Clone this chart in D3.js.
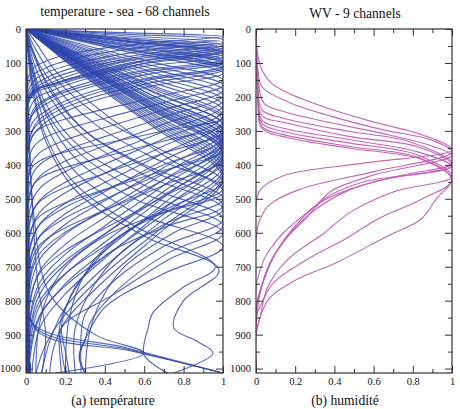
<!DOCTYPE html>
<html><head><meta charset="utf-8">
<script src="https://cdn.jsdelivr.net/npm/d3@7"></script>
<style>body{margin:0;background:#fff}svg{display:block}svg text{font-family:"Liberation Serif","DejaVu Serif",serif !important}</style>
</head><body>
<svg id="c" width="460" height="409"></svg>
<script>
// ---- DATA: each profile is a list of [pressure (hPa), normalized weight] ----
const titles = ["temperature - sea - 68 channels", "WV - 9 channels"];
const captions = ["(a) température", "(b) humidité"];
const xTickLabels = ["0", "0.2", "0.4", "0.6", "0.8", "1"];
const xTicks = [0, 0.2, 0.4, 0.6, 0.8, 1];
const xMinorTicks = [0.1, 0.3, 0.5, 0.7, 0.9];
const yTicks = [0, 100, 200, 300, 400, 500, 600, 700, 800, 900, 1000];
const yMinorTicks = [50, 150, 250, 350, 450, 550, 650, 750, 850, 950];
const pressureRange = [0, 1013];

const stratoProfiles = [
  [[0,0],[10,0.45],[22,1],[40,0.65],[65,0.3],[95,0.1],[130,0.02],[1013,0.005]],
  [[0,0],[15,0.5],[30,1],[50,0.65],[80,0.3],[115,0.1],[150,0.02],[1013,0.005]],
  [[0,0],[20,0.5],[40,1],[60,0.65],[95,0.3],[130,0.1],[170,0.02],[1013,0.01]],
  [[0,0],[25,0.5],[48,1],[70,0.65],[105,0.3],[145,0.1],[185,0.02],[1013,0.01]],
  [[0,0],[28,0.5],[55,1],[80,0.6],[115,0.3],[155,0.1],[195,0.02],[1013,0.01]],
  [[0,0],[30,0.5],[60,1],[85,0.6],[115,0.35],[160,0.12],[195,0.02],[1013,0.01]],
  [[0,0],[33,0.5],[65,1],[90,0.62],[118,0.4],[160,0.15],[197,0.02],[1013,0.015]],
  [[0,0],[36,0.5],[70,1],[95,0.65],[117,0.48],[160,0.16],[198,0.02],[1013,0.015]],
  [[0,0],[38,0.5],[75,1],[100,0.62],[125,0.42],[165,0.16],[205,0.02],[1013,0.02]],
  [[0,0],[42,0.5],[82,1],[110,0.6],[140,0.35],[180,0.14],[220,0.03],[1013,0.02]],
  [[0,0],[45,0.5],[90,1],[120,0.62],[155,0.33],[200,0.12],[245,0.03],[1013,0.02]],
  [[0,0],[50,0.5],[100,1],[130,0.65],[170,0.33],[215,0.12],[265,0.02],[1013,0.02]],
  [[0,0],[55,0.5],[110,1],[145,0.62],[185,0.33],[235,0.12],[290,0.02],[1013,0.02]],
  [[0,0],[60,0.5],[120,1],[160,0.62],[205,0.32],[255,0.12],[315,0.02],[1013,0.02]],
  [[0,0],[65,0.5],[130,1],[170,0.62],[220,0.3],[275,0.1],[335,0.02],[1013,0.02]],
  [[0,0],[35,0.5],[68,1],[92,0.62],[116,0.45],[158,0.16],[196,0.03],[1013,0.01]],
  [[0,0],[48,0.5],[95,1],[125,0.62],[160,0.35],[205,0.12],[255,0.03],[1013,0.02]],
  [[0,0],[58,0.5],[115,1],[150,0.62],[195,0.32],[245,0.12],[300,0.03],[1013,0.02]]
];

const tropoProfiles = [
  [[0,0],[48,0.3],[99,0.65],[150,1],[195,0.7],[236,0.4],[265,0.2],[294,0.07],[330,0.02],[1013,0.02]],
  [[0,0],[53,0.3],[109,0.65],[165,1],[216,0.7],[263,0.4],[296,0.2],[329,0.07],[370,0.02],[1013,0.02]],
  [[0,0],[58,0.3],[119,0.65],[180,1],[238,0.7],[290,0.4],[327,0.2],[364,0.07],[410,0.02],[1013,0.02]],
  [[0,0],[62,0.3],[129,0.65],[195,1],[259,0.7],[317,0.4],[358,0.2],[399,0.07],[450,0.02],[1013,0.02]],
  [[0,0],[67,0.3],[139,0.65],[210,1],[280,0.7],[344,0.4],[389,0.2],[434,0.07],[490,0.02],[1013,0.02]],
  [[0,0],[72,0.3],[149,0.65],[225,1],[301,0.7],[371,0.4],[420,0.2],[469,0.07],[530,0.02],[1013,0.02]],
  [[0,0],[77,0.3],[158,0.65],[240,1],[323,0.7],[398,0.4],[451,0.2],[504,0.07],[570,0.02],[1013,0.02]],
  [[0,0],[82,0.3],[168,0.65],[255,1],[344,0.7],[425,0.4],[482,0.2],[539,0.07],[610,0.02],[1013,0.02]],
  [[0,0],[86,0.3],[178,0.65],[270,1],[365,0.7],[452,0.4],[513,0.2],[574,0.07],[650,0.02],[1013,0.02]],
  [[0,0],[91,0.3],[188,0.65],[285,1],[386,0.7],[479,0.4],[544,0.2],[609,0.07],[690,0.02],[1013,0.02]],
  [[0,0],[96,0.3],[198,0.65],[300,1],[408,0.7],[506,0.4],[575,0.2],[644,0.07],[730,0.02],[1013,0.02]],
  [[0,0],[99,0.3],[205,0.65],[310,1],[425,0.7],[531,0.4],[604,0.2],[678,0.07],[770,0.02],[1013,0.02]],
  [[0,0],[102,0.3],[211,0.65],[320,1],[443,0.7],[555,0.4],[634,0.2],[712,0.07],[810,0.02],[1013,0.02]],
  [[0,0],[106,0.3],[218,0.65],[330,1],[460,0.7],[580,0.4],[663,0.2],[746,0.07],[850,0.02],[1013,0.02]],
  [[0,0],[109,0.3],[224,0.65],[340,1],[478,0.7],[604,0.4],[692,0.2],[780,0.07],[890,0.02],[1013,0.02]],
  [[0,0],[112,0.3],[231,0.65],[350,1],[495,0.7],[628,0.4],[721,0.2],[814,0.07],[930,0.02],[1013,0.02]],
  [[0,0],[114,0.3],[234,0.65],[355,1],[416,0.7],[473,0.4],[512,0.2],[551,0.07],[600,0.02],[1013,0.02]],
  [[0,0],[115,0.3],[238,0.65],[360,1],[513,0.7],[653,0.4],[750,0.2],[848,0.07],[970,0.02],[1013,0.02]],
  [[0,0],[118,0.3],[244,0.65],[370,1],[530,0.7],[675,0.4],[780,0.2],[880,0.07],[1013,0.03]],
  [[0,0],[122,0.3],[251,0.65],[380,1],[460,0.7],[534,0.4],[585,0.2],[636,0.07],[700,0.02],[1013,0.02]],
  [[0,0],[125,0.3],[257,0.65],[390,1],[493,0.7],[587,0.4],[652,0.2],[718,0.07],[800,0.02],[1013,0.02]],
  [[0,0],[128,0.3],[264,0.65],[400,1],[525,0.7],[640,0.4],[720,0.2],[800,0.07],[900,0.02],[1013,0.02]],
  [[0,0],[134,0.3],[277,0.65],[420,1],[560,0.7],[700,0.4],[820,0.2],[920,0.12],[1013,0.08]],
  [[0,0],[141,0.3],[290,0.65],[440,1],[590,0.7],[740,0.4],[860,0.2],[940,0.14],[1013,0.12]],
  [[0,0],[83,0.3],[172,0.65],[260,1],[300,0.7],[337,0.4],[362,0.2],[388,0.07],[420,0.02],[1013,0.02]],
  [[0,0],[90,0.3],[185,0.65],[280,1],[330,0.7],[376,0.4],[408,0.2],[440,0.07],[480,0.02],[1013,0.02]],
  [[0,0],[96,0.3],[198,0.65],[300,1],[365,0.7],[425,0.4],[466,0.2],[508,0.07],[560,0.02],[1013,0.02]],
  [[0,0],[102,0.3],[211,0.65],[320,1],[400,0.7],[474,0.4],[525,0.2],[576,0.07],[640,0.02],[1013,0.02]],
  [[0,0],[107,0.3],[221,0.65],[335,1],[421,0.7],[501,0.4],[556,0.2],[611,0.07],[680,0.02],[1013,0.02]],
  [[0,0],[110,0.3],[228,0.65],[345,1],[444,0.7],[535,0.4],[598,0.2],[661,0.07],[740,0.02],[1013,0.02]],
  [[0,0],[117,0.3],[241,0.65],[365,1],[489,0.7],[603,0.4],[682,0.2],[761,0.07],[860,0.02],[1013,0.02]],
  [[0,0],[131,0.3],[271,0.65],[410,1],[545,0.7],[669,0.4],[756,0.2],[842,0.07],[950,0.02],[1013,0.02]],
  [[0,0],[138,0.3],[284,0.65],[430,1],[580,0.7],[720,0.4],[840,0.2],[930,0.1],[1013,0.05]]
];

const lowerProfiles = [
  [[0,0],[60,0.03],[150,0.12],[280,0.35],[380,0.65],[470,1],[540,0.7],[620,0.45],[720,0.3],[850,0.22],[1013,0.2]],
  [[0,0],[80,0.04],[170,0.12],[300,0.3],[400,0.6],[500,1],[570,0.72],[650,0.5],[750,0.35],[880,0.25],[1013,0.25]],
  [[0,0],[100,0.04],[200,0.12],[320,0.3],[430,0.6],[530,1],[600,0.75],[700,0.5],[800,0.38],[900,0.32],[1013,0.3]],
  [[0,0],[100,0.03],[220,0.1],[350,0.28],[460,0.6],[560,1],[640,0.7],[740,0.45],[840,0.3],[900,0.28],[1013,0.28]],
  [[0,0],[120,0.03],[250,0.1],[380,0.25],[500,0.55],[600,1],[680,0.72],[780,0.45],[880,0.18],[940,0.18],[1013,0.2]],
  [[0,0],[140,0.03],[280,0.1],[420,0.25],[540,0.55],[640,1],[720,0.7],[820,0.4],[915,0.3],[960,0.27],[1013,0.3]],
  [[0,0],[50,0.04],[140,0.14],[260,0.38],[360,0.7],[450,1],[520,0.75],[600,0.5],[700,0.33],[820,0.2],[880,0.17],[1013,0.18]],
  [[0,0],[40,0.05],[130,0.16],[250,0.4],[380,0.72],[480,1],[540,0.7],[610,0.4],[700,0.2],[800,0.1],[900,0.06],[1013,0.05]],
  [[0,0],[70,0.04],[180,0.12],[310,0.32],[420,0.65],[520,1],[580,0.72],[660,0.42],[760,0.25],[880,0.18],[950,0.2],[1013,0.22]],
  [[0,0],[110,0.03],[240,0.1],[370,0.28],[480,0.58],[580,1],[660,0.72],[760,0.48],[860,0.33],[915,0.3],[970,0.27],[1013,0.3]]
];

const surfaceProfiles = [
  [[0,0],[150,0.03],[300,0.09],[450,0.24],[580,0.55],[700,0.96],[760,0.8],[835,0.645],[880,0.62],[960,0.6],[1013,0.72]],
  [[0,0],[170,0.03],[330,0.1],[480,0.26],[610,0.6],[710,0.98],[800,0.8],[880,0.75],[920,0.87],[955,0.95],[1013,0.75]],
  [[0,0],[400,0.005],[700,0.01],[865,0.03],[940,0.52],[1013,1]],
  [[0,0],[400,0.005],[700,0.015],[875,0.04],[945,0.53],[1013,1]],
  [[0,0],[400,0.01],[700,0.02],[885,0.05],[950,0.55],[1013,1]],
  [[0,0],[250,0.01],[550,0.04],[780,0.12],[900,0.35],[955,0.6],[1013,0.15]],
  [[0,0],[200,0.01],[500,0.03],[750,0.06],[900,0.1],[1013,0.08]]
];

const wvProfiles = [
  [[15,0],[80,0.01],[120,0.03],[160,0.08],[190,0.17],[238,0.39],[277,0.62],[312,0.85],[355,1],[395,0.55],[432,0.14],[475,0.02],[520,0],[1013,0]],
  [[15,0],[120,0.01],[170,0.03],[214,0.16],[258,0.39],[297,0.65],[326,0.89],[362,1],[420,0.6],[473,0.22],[517,0.07],[561,0.02],[620,0],[1013,0]],
  [[15,0],[150,0.01],[218,0.04],[243,0.14],[277,0.39],[312,0.68],[345,0.9],[372,1],[430,0.6],[475,0.39],[517,0.31],[600,0.14],[650,0.07],[680,0.04],[760,0],[1013,0]],
  [[15,0],[160,0.01],[238,0.03],[263,0.14],[302,0.48],[331,0.78],[395,1],[430,0.75],[473,0.48],[542,0.28],[650,0.11],[738,0.04],[806,0.005],[1013,0]],
  [[15,0],[170,0.01],[255,0.03],[277,0.16],[317,0.48],[346,0.82],[400,1],[450,0.6],[510,0.33],[580,0.2],[660,0.1],[740,0.04],[830,0],[1013,0]],
  [[15,0],[180,0.01],[268,0.03],[292,0.14],[326,0.48],[361,0.82],[405,1],[450,0.55],[500,0.35],[560,0.25],[620,0.15],[690,0.07],[780,0.02],[880,0],[1013,0]],
  [[15,0],[190,0.01],[277,0.03],[302,0.14],[336,0.48],[370,0.82],[434,1],[480,0.7],[540,0.48],[600,0.35],[680,0.16],[760,0.06],[850,0.02],[900,0],[1013,0]],
  [[15,0],[200,0.01],[287,0.03],[311,0.14],[346,0.48],[377,0.82],[440,1],[500,0.92],[561,0.84],[610,0.67],[688,0.41],[740,0.2],[792,0.07],[850,0.02],[900,0],[1013,0]],
  [[15,0],[210,0.01],[292,0.03],[321,0.17],[351,0.48],[385,0.85],[445,1],[500,0.85],[560,0.62],[620,0.45],[679,0.26],[747,0.09],[806,0.03],[850,0],[1013,0]]
];

// ---- DRAWING ----
const svg = d3.select("#c");
const font = "Liberation Serif, DejaVu Serif, serif";
const y = d3.scaleLinear().domain(pressureRange).range([29, 373]);

const panels = [
  {x: d3.scaleLinear().domain([0,1]).range([26, 223]),
   profiles: stratoProfiles.concat(tropoProfiles, lowerProfiles, surfaceProfiles),
   color: "#2c45ad", width: 1.15, opacity: 0.8, titleX: 125, titleY: 16, capX: 113},
  {x: d3.scaleLinear().domain([0,1]).range([256, 452]),
   profiles: wvProfiles, color: "#c25cb6", width: 1.1, opacity: 0.95, titleX: 355, titleY: 18, capX: 345}
];

panels.forEach((P, i) => {
  const g = svg.append("g");
  const [x0, x1] = P.x.range();
  const [y0, y1] = y.range();
  const cid = "clip" + i;
  svg.append("clipPath").attr("id", cid).append("rect")
    .attr("x", x0).attr("y", y0).attr("width", x1 - x0).attr("height", y1 - y0);

  const line = d3.line().x(d => P.x(d[1])).y(d => y(d[0])).curve(d3.curveCatmullRom.alpha(0.5));
  g.append("g").attr("clip-path", `url(#${cid})`)
    .selectAll("path").data(P.profiles).join("path")
    .attr("d", line).attr("fill", "none")
    .attr("stroke", P.color).attr("stroke-width", P.width).attr("stroke-opacity", P.opacity);

  const axStyle = sel => {
    sel.attr("font-family", font);
    sel.selectAll("line").attr("stroke", "#333").attr("stroke-width", 1);
    sel.selectAll("path.domain").remove();
    sel.selectAll("text").attr("font-family", font).attr("font-size", 10.5).attr("fill", "#111");
  };
  g.append("g").attr("transform", `translate(0,${y1})`)
    .call(d3.axisBottom(P.x).tickValues(xTicks).tickSizeInner(-7).tickSizeOuter(0).tickPadding(5)
      .tickFormat((d, k) => xTickLabels[k])).call(axStyle);
  g.append("g").attr("transform", `translate(0,${y1})`)
    .call(d3.axisBottom(P.x).tickValues(xMinorTicks).tickSizeInner(-4).tickSizeOuter(0).tickFormat("")).call(axStyle);
  g.append("g").attr("transform", `translate(0,${y0})`)
    .call(d3.axisTop(P.x).tickValues(xTicks).tickSizeInner(-7).tickSizeOuter(0).tickFormat("")).call(axStyle);
  g.append("g").attr("transform", `translate(0,${y0})`)
    .call(d3.axisTop(P.x).tickValues(xMinorTicks).tickSizeInner(-4).tickSizeOuter(0).tickFormat("")).call(axStyle);
  g.append("g").attr("transform", `translate(${x0},0)`)
    .call(d3.axisLeft(y).tickValues(yTicks).tickSizeInner(-7).tickSizeOuter(0).tickPadding(5).tickFormat(d3.format("d"))).call(axStyle);
  g.append("g").attr("transform", `translate(${x0},0)`)
    .call(d3.axisLeft(y).tickValues(yMinorTicks).tickSizeInner(-4).tickSizeOuter(0).tickFormat("")).call(axStyle);
  g.append("g").attr("transform", `translate(${x1},0)`)
    .call(d3.axisRight(y).tickValues(yTicks).tickSizeInner(-7).tickSizeOuter(0).tickFormat("")).call(axStyle);
  g.append("g").attr("transform", `translate(${x1},0)`)
    .call(d3.axisRight(y).tickValues(yMinorTicks).tickSizeInner(-4).tickSizeOuter(0).tickFormat("")).call(axStyle);

  g.append("rect").attr("x", x0).attr("y", y0).attr("width", x1 - x0).attr("height", y1 - y0)
    .attr("fill", "none").attr("stroke", "#333").attr("stroke-width", 1.2);

  g.append("text").attr("x", P.titleX).attr("y", P.titleY).attr("text-anchor", "middle")
    .attr("font-family", font).attr("font-size", 13.6).attr("fill", "#111").text(titles[i]);
  g.append("text").attr("x", P.capX).attr("y", 405).attr("text-anchor", "middle")
    .attr("font-family", font).attr("font-size", 13.6).attr("fill", "#111").text(captions[i]);
});
</script>
</body></html>
